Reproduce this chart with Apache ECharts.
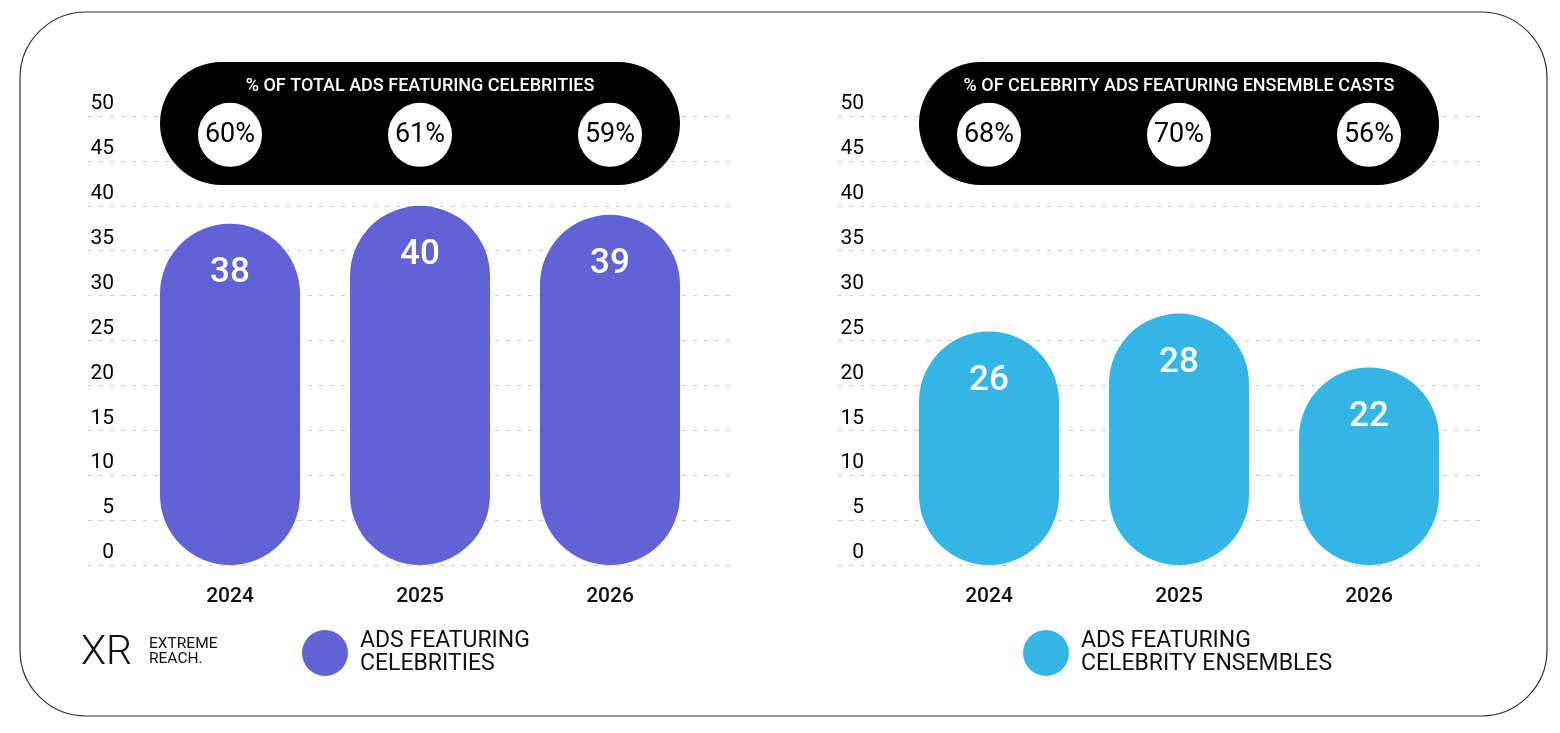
<!DOCTYPE html>
<html>
<head>
<meta charset="utf-8">
<script src="https://cdn.jsdelivr.net/npm/echarts@6/dist/echarts.min.js"></script>
<style>
html,body{margin:0;padding:0;background:#fff;}
#chart{width:1560px;height:733px;}
</style>
</head>
<body>
<div id="chart"></div>
<script>
// ---- data ----
const years = ['2024', '2025', '2026'];
const celebAds = [38, 40, 39];
const ensembleAds = [26, 28, 22];
const celebPct = [60, 61, 59];
const ensemblePct = [68, 70, 56];
const yTicks = [0, 5, 10, 15, 20, 25, 30, 35, 40, 45, 50];
const leftTitle = '% OF TOTAL ADS FEATURING CELEBRITIES';
const rightTitle = '% OF CELEBRITY ADS FEATURING ENSEMBLE CASTS';
const leftName = 'ADS FEATURING\nCELEBRITIES';
const rightName = 'ADS FEATURING\nCELEBRITY ENSEMBLES';

// ---- styles / layout ----
const FONT = 'Roboto';
const PURPLE = '#5F63D6';
const CYAN = '#33B6E5';
const yMin = yTicks[0], yMax = yTicks[yTicks.length - 1], yStep = yTicks[1] - yTicks[0];
const CIRCLE_ROW = 47.9; // vertical row of the percentage badges (axis units)

const chart = echarts.init(document.getElementById('chart'));

function gridAxisY(gridIndex) {
  return {
    type: 'value', gridIndex, min: yMin, max: yMax, interval: yStep,
    axisLine: {show: false}, axisTick: {show: false},
    axisLabel: {
      inside: true, margin: 26, align: 'right', verticalAlign: 'bottom',
      fontFamily: FONT, fontSize: 21, lineHeight: 24, color: '#000'
    },
    splitLine: {show: true, lineStyle: {color: '#cfcfcf', width: 1, type: [4, 7]}}
  };
}
function hiddenY(gridIndex) {
  return {type: 'value', gridIndex, min: yMin, max: yMax, interval: yStep, show: false, splitLine: {show: false}};
}
function catX(gridIndex) {
  return {
    type: 'category', gridIndex, data: years,
    axisLine: {show: false}, axisTick: {show: false},
    axisLabel: {margin: 20, fontFamily: FONT, fontSize: 21, fontWeight: 500, lineHeight: 24, color: '#111'}
  };
}
function barSeries(name, data, color, xi, yi) {
  return {
    name, type: 'bar', xAxisIndex: xi, yAxisIndex: yi, data, barWidth: 140, z: 3,
    itemStyle: {color, borderRadius: 70},
    label: {
      show: true, position: 'insideTop', distance: 32,
      fontFamily: FONT, fontSize: 35, lineHeight: 35, fontWeight: 500, color: '#fff'
    }
  };
}
function pctSeries(pcts, xi, yi) {
  return {
    type: 'scatter', xAxisIndex: xi, yAxisIndex: yi, z: 20, clip: false, silent: true,
    symbol: 'circle', symbolSize: 64,
    itemStyle: {color: '#fff', opacity: 1},
    data: pcts.map((p, i) => ({value: [years[i], CIRCLE_ROW], pct: p})),
    label: {
      show: true, position: 'inside',
      formatter: (p) => p.data.pct + '%',
      fontFamily: FONT, fontSize: 27, lineHeight: 30, color: '#000', padding: [3, 0, 0, 0]
    }
  };
}
function pill(x, title) {
  return [
    {type: 'rect', z: 10, shape: {x: x, y: 62, width: 520, height: 123, r: 61.5}, style: {fill: '#000'}},
    {type: 'text', z: 11, x: x + 260, y: 86,
     style: {text: title, fill: '#fff', font: '500 18px ' + FONT, textAlign: 'center', textVerticalAlign: 'middle'}}
  ];
}
function legend(left, name) {
  return {
    data: [name], left: left, top: 629, orient: 'vertical',
    icon: 'circle', itemWidth: 46, itemHeight: 46, padding: 0,
    selectedMode: false,
    textStyle: {fontFamily: FONT, fontSize: 23, lineHeight: 23, color: '#111', padding: [2, 0, 0, 7]}
  };
}

const option = {
  backgroundColor: '#fff',
  animation: false,
  grid: [
    {left: 88, width: 647, top: 116, height: 449},
    {left: 135, width: 570, top: 116, height: 449},
    {left: 838, width: 649, top: 116, height: 449},
    {left: 894, width: 570, top: 116, height: 449}
  ],
  xAxis: [
    {type: 'value', gridIndex: 0, show: false},
    catX(1),
    {type: 'value', gridIndex: 2, show: false},
    catX(3)
  ],
  yAxis: [gridAxisY(0), hiddenY(1), gridAxisY(2), hiddenY(3)],
  legend: [legend(302, leftName), legend(1023, rightName)],
  series: [
    barSeries(leftName, celebAds, PURPLE, 1, 1),
    pctSeries(celebPct, 1, 1),
    barSeries(rightName, ensembleAds, CYAN, 3, 3),
    pctSeries(ensemblePct, 3, 3)
  ],
  graphic: [
    {type: 'rect', z: 0, shape: {x: 20, y: 12, width: 1527, height: 704, r: 66},
     style: {fill: 'none', stroke: '#333', lineWidth: 1.2}},
    ...pill(160, leftTitle),
    ...pill(919, rightTitle),
    {type: 'text', z: 5, x: 81, y: 654,
     style: {text: 'XR', fill: '#111', font: '300 41px ' + FONT, textVerticalAlign: 'middle'}},
    {type: 'text', z: 5, x: 149, y: 652,
     style: {text: 'EXTREME\nREACH.', fill: '#111', font: '400 15.5px ' + FONT, lineHeight: 15, textVerticalAlign: 'middle'}}
  ]
};
chart.setOption(option);
</script>
</body>
</html>
